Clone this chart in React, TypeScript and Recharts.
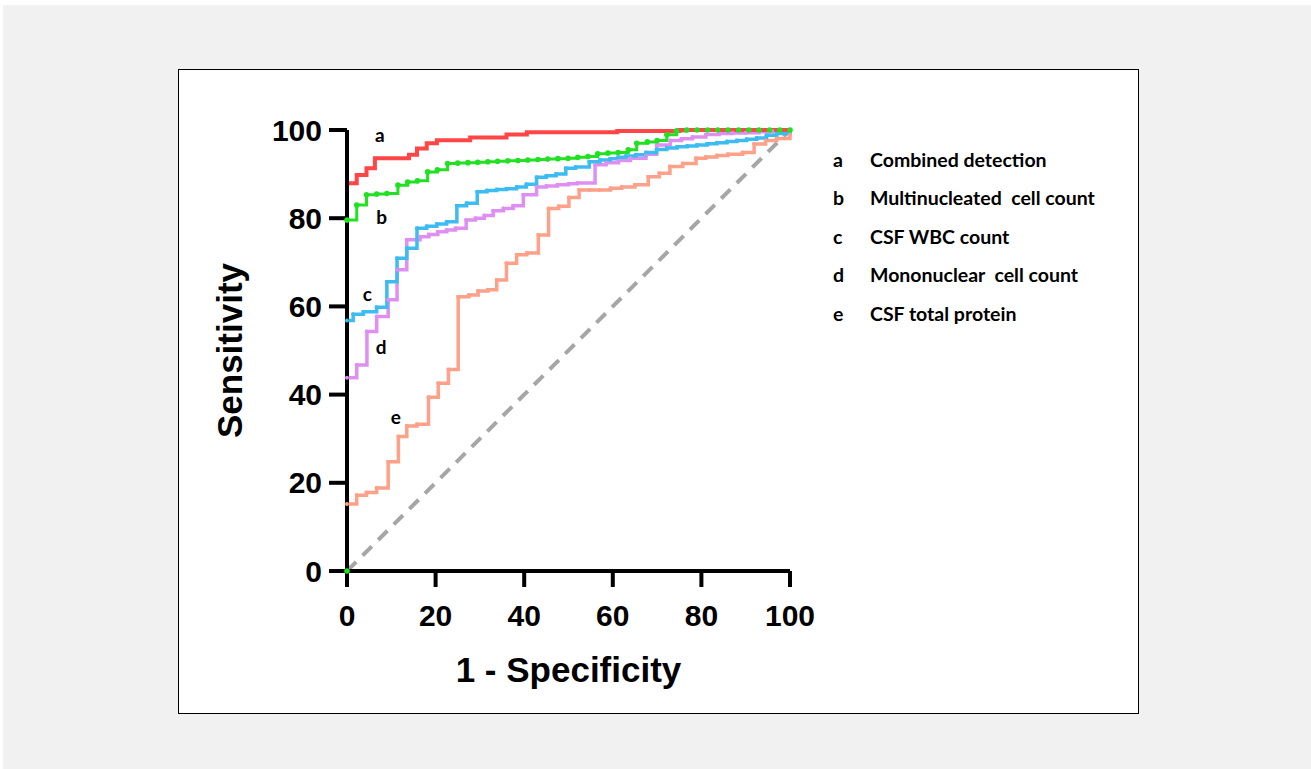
import {
  LineChart,
  Line,
  XAxis,
  YAxis,
  Label,
  ReferenceDot,
} from 'recharts';

// ROC points as [1 - specificity, sensitivity], in percent
const combined: [number, number][] = [
  [0, 0], [0, 87.9], [2.2, 89.8], [4.4, 91.3], [6.3, 93.6], [14, 94.4], [15.8, 95.8],
  [18, 97], [20.3, 97.7], [27.8, 98.3], [36, 99], [40.6, 99.5], [61, 99.8], [75, 100], [100, 100],
];

const multinucleated: [number, number][] = [
  [0, 0], [0, 79.6], [2.2, 83], [4.4, 85.3], [6.7, 85.5], [9, 85.6], [11.5, 87.5], [13.7, 88.2],
  [15.9, 88.5], [18.2, 90.5], [20.4, 91], [22.7, 92.4], [25, 92.5], [27.3, 92.6], [29.5, 92.7],
  [31.8, 92.8], [34, 92.9], [36.3, 93], [38.6, 93.1], [40.8, 93.2], [43.1, 93.3], [45.3, 93.4],
  [47.6, 93.5], [49.9, 93.6], [52.1, 93.8], [54.4, 94], [56.6, 94.6], [58.9, 94.8], [61.2, 94.9],
  [63.5, 95.5], [65.4, 97], [67.8, 97.3], [70, 97.6], [72.2, 98.9], [74.4, 99.8], [76.7, 100],
  [79, 100], [81.4, 100], [83.7, 100], [86, 100], [88.4, 100], [90.7, 100], [93, 100],
  [95.4, 100], [97.7, 100], [100, 100],
];

const wbc: [number, number][] = [
  [0, 0], [0, 56.8], [1.4, 58.2], [3.7, 58.8], [6.7, 59.8], [9, 65.6], [11.3, 70.9], [13.5, 73.2],
  [15.8, 77.7], [18, 78.2], [20.3, 78.7], [22.5, 79.2], [24.8, 82.8], [27, 83.4], [29.4, 86],
  [31.6, 86.3], [33.8, 86.5], [36, 86.7], [38.3, 87.1], [40.5, 87.7], [42.8, 89.3], [45, 89.6],
  [47.2, 90], [49.4, 91.3], [51.6, 91.6], [54.7, 92.8], [57.1, 93.2], [59.4, 93.5], [61.2, 93.8],
  [63, 94.1], [65.2, 94.4], [67.5, 94.9], [69.9, 95.6], [72.2, 95.9], [74.5, 96.2], [76.8, 96.4],
  [79, 96.6], [81.3, 96.9], [83.5, 97.1], [85.8, 97.4], [88, 97.6], [90.2, 97.9], [92.5, 98.2],
  [94.7, 98.8], [97, 99.2], [100, 100],
];

const mononuclear: [number, number][] = [
  [0, 0], [0, 43.8], [2.2, 46.7], [4.5, 54.3], [6.7, 57.7], [9.3, 61.5], [11.3, 68.3], [13.5, 75.1],
  [16.5, 75.8], [18.5, 76.3], [20.5, 76.9], [22.5, 77.3], [24.5, 77.7], [26.9, 79.6], [29, 80],
  [31, 80.6], [33, 81.7], [35.3, 82.2], [37.5, 82.8], [39.8, 85.3], [42.8, 87.1], [45, 87.3],
  [47.5, 87.6], [50, 87.8], [52, 88], [56, 92.1], [58.5, 92.6], [61.3, 93.1], [64, 93.6],
  [67.5, 94.5], [69.9, 96.6], [73, 97.6], [75.5, 98], [78, 98.4], [81, 99], [84, 99.2], [87, 99.3],
  [90, 99.4], [93, 99.6], [96, 99.8], [100, 100],
];

const protein: [number, number][] = [
  [0, 0], [0, 15.2], [2.2, 17.2], [4.4, 17.8], [6.7, 18.8], [9.3, 24.8], [11.6, 30.5], [13.5, 32.9],
  [15.8, 33.3], [18.4, 39.4], [20.6, 42.6], [22.9, 45.7], [25.1, 62.2], [27.5, 62.6], [29.6, 63.5],
  [31.8, 63.8], [33.8, 66], [36, 69.8], [38.3, 71.7], [40.6, 72.1], [43.2, 76.2], [45.5, 82.2],
  [47.8, 82.7], [50.1, 84.7], [52.4, 86.4], [54.7, 86.4], [57, 86.4], [59.5, 86.8], [62, 87.1],
  [65, 87.6], [68, 89.4], [70.5, 90.2], [72.9, 91.7], [75.8, 92.4], [78.8, 93.6], [81, 93.9],
  [83.5, 94.2], [86, 94.5], [89.3, 94.9], [91.9, 96.8], [94.5, 97.6], [97, 98.1], [100, 98.9],
  [100, 100],
];

const reference: [number, number][] = [[0, 0], [100, 100]];

const axisTicks = [0, 20, 40, 60, 80, 100];

const seriesLetters = ['a', 'b', 'c', 'd', 'e'];
const seriesNames = [
  'Combined detection',
  'Multinucleated  cell count',
  'CSF WBC count',
  'Mononuclear  cell count',
  'CSF total protein',
];
// where the letter tags sit on the plot (data units)
const letterX = [7.4, 7.8, 4.6, 7.7, 11.0];
const letterY = [98.9, 80.3, 62.8, 50.8, 34.8];

const toPoints = (arr: [number, number][]) => arr.map(([x, y]) => ({ x, y }));

const ARIAL = '"Liberation Sans", Arial, sans-serif';
const CALIBRI = 'Lato, "Open Sans", sans-serif';

const tickStyle = { fill: '#000', fontSize: 30, fontWeight: 700, fontFamily: ARIAL };

export default function App() {
  return (
    <div style={{ position: 'fixed', left: 0, top: 0, width: 1311, height: 769, background: '#fff' }}>
      <div style={{ position: 'absolute', left: 3, top: 5, width: 1308, height: 764, background: '#f1f1f1' }} />
      <div
        style={{
          position: 'absolute',
          left: 178,
          top: 69,
          width: 961,
          height: 645,
          boxSizing: 'border-box',
          border: '1px solid #000',
          background: '#fff',
        }}
      />
      <div style={{ position: 'absolute', left: 0, top: 0 }}>
        <LineChart
          width={1311}
          height={769}
          margin={{ top: 130, right: 521, bottom: 0, left: 113 }}
        >
          <XAxis
            type="number"
            dataKey="x"
            domain={[0, 100]}
            ticks={axisTicks}
            height={198}
            axisLine={{ stroke: '#000', strokeWidth: 4 }}
            tickLine={{ stroke: '#000', strokeWidth: 4 }}
            tickSize={16}
            tickMargin={18}
            tick={tickStyle}
          >
            <Label
              value="1 - Specificity"
              position="center"
              fill="#000"
              fontSize={35}
              fontWeight={700}
              fontFamily={ARIAL}
            />
          </XAxis>
          <YAxis
            type="number"
            dataKey="y"
            domain={[0, 100]}
            ticks={axisTicks}
            width={234}
            axisLine={{ stroke: '#000', strokeWidth: 4 }}
            tickLine={{ stroke: '#000', strokeWidth: 4 }}
            tickSize={18}
            tickMargin={7}
            tick={tickStyle}
          >
            <Label
              value="Sensitivity"
              angle={-90}
              position="center"
              fill="#000"
              fontSize={35}
              fontWeight={700}
              fontFamily={ARIAL}
            />
          </YAxis>

          <Line
            data={toPoints(reference)}
            dataKey="y"
            type="linear"
            stroke="#a6a6a6"
            strokeWidth={4}
            strokeDasharray="13 9"
            dot={false}
            isAnimationActive={false}
          />
          <Line
            data={toPoints(protein)}
            dataKey="y"
            type="stepAfter"
            stroke="#ffa088"
            strokeWidth={3.5}
            dot={{ r: 2, fill: '#ffa088', stroke: 'none' }}
            isAnimationActive={false}
          />
          <Line
            data={toPoints(mononuclear)}
            dataKey="y"
            type="stepAfter"
            stroke="#df8ff2"
            strokeWidth={3.5}
            dot={{ r: 2, fill: '#df8ff2', stroke: 'none' }}
            isAnimationActive={false}
          />
          <Line
            data={toPoints(wbc)}
            dataKey="y"
            type="stepAfter"
            stroke="#3cbcf0"
            strokeWidth={3.5}
            dot={{ r: 2, fill: '#3cbcf0', stroke: 'none' }}
            isAnimationActive={false}
          />
          <Line
            data={toPoints(multinucleated)}
            dataKey="y"
            type="stepAfter"
            stroke="#22e022"
            strokeWidth={3}
            dot={{ r: 2.8, fill: '#22e022', stroke: 'none' }}
            isAnimationActive={false}
          />
          <Line
            data={toPoints(combined)}
            dataKey="y"
            type="stepAfter"
            stroke="#ff4545"
            strokeWidth={4}
            dot={false}
            isAnimationActive={false}
          />

          {seriesLetters.map((letter, i) => (
            <ReferenceDot
              key={letter}
              x={letterX[i]}
              y={letterY[i]}
              r={1}
              fillOpacity={0}
              stroke="none"
              label={{
                value: letter,
                position: 'center',
                fill: '#000',
                fontSize: 19,
                fontWeight: 700,
                fontFamily: CALIBRI,
              }}
            />
          ))}
        </LineChart>
      </div>

      <div style={{ position: 'absolute', left: 833, top: 140, fontFamily: CALIBRI, fontWeight: 700, fontSize: 19.5, color: '#000' }}>
        {seriesLetters.map((letter, i) => (
          <div key={letter} style={{ display: 'flex', height: 38.5, alignItems: 'center', whiteSpace: 'pre' }}>
            <span style={{ width: 37 }}>{letter}</span>
            <span>{seriesNames[i]}</span>
          </div>
        ))}
      </div>
    </div>
  );
}
